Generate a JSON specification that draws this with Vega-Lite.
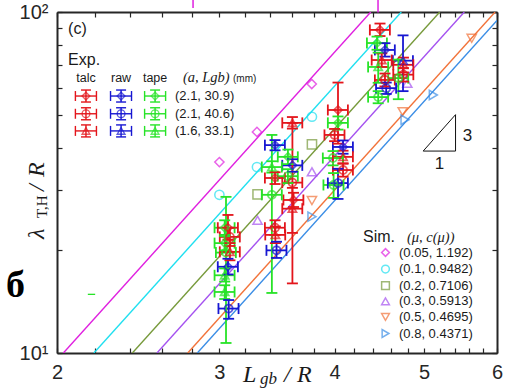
{
"$schema":"https://vega.github.io/schema/vega-lite/v6.json",
"width":440,"height":341,
"autosize":"none",
"padding":{"left":57,"top":12,"right":12,"bottom":35},
"config":{"view":{"stroke":null},"font":"Liberation Sans"},
"datasets":{
"lines":[
{"lab":"(0.05, 1.192)","x":2.032,"y":10},{"lab":"(0.05, 1.192)","x":4.378,"y":100},
{"lab":"(0.1, 0.9482)","x":2.193,"y":10},{"lab":"(0.1, 0.9482)","x":4.725,"y":100},
{"lab":"(0.2, 0.7106)","x":2.414,"y":10},{"lab":"(0.2, 0.7106)","x":5.201,"y":100},
{"lab":"(0.3, 0.5913)","x":2.567,"y":10},{"lab":"(0.3, 0.5913)","x":5.530,"y":100},
{"lab":"(0.5, 0.4695)","x":2.772,"y":10},{"lab":"(0.5, 0.4695)","x":5.972,"y":100},
{"lab":"(0.8, 0.4371)","x":2.839,"y":10},{"lab":"(0.8, 0.4371)","x":6.0,"y":94.4}],
"sim":[
{"lab":"(0.05, 1.192)","x":3.0,"y":36.3},{"lab":"(0.05, 1.192)","x":3.295,"y":44.5},{"lab":"(0.05, 1.192)","x":3.778,"y":61.5},
{"lab":"(0.1, 0.9482)","x":3.0,"y":29.1},{"lab":"(0.1, 0.9482)","x":3.295,"y":35.1},{"lab":"(0.1, 0.9482)","x":3.78,"y":49.3},
{"lab":"(0.2, 0.7106)","x":3.30,"y":29.2},{"lab":"(0.2, 0.7106)","x":3.78,"y":40.9},
{"lab":"(0.3, 0.5913)","x":3.30,"y":24.5},{"lab":"(0.3, 0.5913)","x":3.78,"y":34.0},{"lab":"(0.3, 0.5913)","x":4.796,"y":61.8},
{"lab":"(0.5, 0.4695)","x":3.78,"y":28.0},{"lab":"(0.5, 0.4695)","x":4.741,"y":51.0},{"lab":"(0.5, 0.4695)","x":5.633,"y":83.7},
{"lab":"(0.8, 0.4371)","x":3.78,"y":25.1},{"lab":"(0.8, 0.4371)","x":4.769,"y":48.3},{"lab":"(0.8, 0.4371)","x":5.118,"y":57.1}],
"exp":[
{"m":"tape","c":"d","x":3.04,"xl":2.964,"xh":3.116,"y":23.3,"yl":22.2,"yh":24.5},
{"m":"tape","c":"d","x":3.04,"xl":2.964,"xh":3.116,"y":21.0,"yl":20.0,"yh":22.0},
{"m":"tape","c":"c","x":3.05,"xl":2.974,"xh":3.126,"y":19.7,"yl":10.7,"yh":28.7},
{"m":"tape","c":"t","x":3.04,"xl":2.964,"xh":3.116,"y":16.9,"yl":16.2,"yh":17.7},
{"m":"tape","c":"t","x":3.04,"xl":2.964,"xh":3.116,"y":15.1,"yl":14.4,"yh":15.8},
{"m":"talc","c":"d","x":3.065,"xl":2.988,"xh":3.142,"y":23.3,"yl":21.5,"yh":25.4},
{"m":"talc","c":"c","x":3.08,"xl":3.003,"xh":3.157,"y":21.9,"yl":20.6,"yh":23.3},
{"m":"talc","c":"t","x":3.08,"xl":3.003,"xh":3.157,"y":19.8,"yl":18.7,"yh":21.0},
{"m":"raw","c":"d","x":3.065,"xl":2.988,"xh":3.142,"y":17.9,"yl":17.0,"yh":18.9},
{"m":"raw","c":"c","x":3.07,"xl":2.993,"xh":3.147,"y":13.5,"yl":12.6,"yh":14.3},
{"m":"raw","c":"d","x":3.447,"xl":3.361,"xh":3.533,"y":40.7,"yl":39.3,"yh":42.1},
{"m":"tape","c":"t","x":3.42,"xl":3.335,"xh":3.506,"y":35.1,"yl":33.8,"yh":36.5},
{"m":"talc","c":"d","x":3.447,"xl":3.361,"xh":3.533,"y":32.6,"yl":31.3,"yh":33.9},
{"m":"tape","c":"c","x":3.42,"xl":3.335,"xh":3.506,"y":29.1,"yl":15.0,"yh":43.6},
{"m":"talc","c":"c","x":3.447,"xl":3.361,"xh":3.533,"y":23.3,"yl":22.2,"yh":24.5},
{"m":"talc","c":"t","x":3.45,"xl":3.364,"xh":3.536,"y":22.2,"yl":21.0,"yh":23.5},
{"m":"raw","c":"c","x":3.46,"xl":3.374,"xh":3.547,"y":20.0,"yl":19.0,"yh":21.2},
{"m":"talc","c":"t","x":3.6,"xl":3.51,"xh":3.69,"y":47.3,"yl":45.5,"yh":49.2},
{"m":"tape","c":"d","x":3.56,"xl":3.471,"xh":3.649,"y":37.6,"yl":35.8,"yh":39.5},
{"m":"raw","c":"d","x":3.6,"xl":3.51,"xh":3.69,"y":35.5,"yl":34.0,"yh":37.0},
{"m":"tape","c":"c","x":3.56,"xl":3.471,"xh":3.649,"y":33.0,"yl":31.5,"yh":34.6},
{"m":"talc","c":"c","x":3.6,"xl":3.51,"xh":3.69,"y":31.6,"yl":16.0,"yh":47.3},
{"m":"talc","c":"d","x":3.61,"xl":3.52,"xh":3.70,"y":28.1,"yl":26.8,"yh":29.5},
{"m":"talc","c":"t","x":3.6,"xl":3.51,"xh":3.69,"y":26.5,"yl":22.5,"yh":30.5},
{"m":"talc","c":"d","x":4.034,"xl":3.933,"xh":4.135,"y":51.6,"yl":41.1,"yh":62.1},
{"m":"tape","c":"d","x":4.034,"xl":3.933,"xh":4.135,"y":47.3,"yl":45.2,"yh":49.4},
{"m":"talc","c":"c","x":4.0,"xl":3.90,"xh":4.10,"y":43.6,"yl":41.8,"yh":45.4},
{"m":"raw","c":"d","x":4.085,"xl":3.983,"xh":4.187,"y":40.2,"yl":38.4,"yh":42.0},
{"m":"talc","c":"t","x":4.085,"xl":3.983,"xh":4.187,"y":37.6,"yl":36.0,"yh":39.2},
{"m":"tape","c":"c","x":3.984,"xl":3.884,"xh":4.084,"y":37.3,"yl":35.5,"yh":39.1},
{"m":"talc","c":"c","x":4.085,"xl":3.983,"xh":4.187,"y":34.4,"yl":32.9,"yh":35.9},
{"m":"tape","c":"c","x":3.99,"xl":3.89,"xh":4.09,"y":31.1,"yl":28.5,"yh":33.7},
{"m":"raw","c":"c","x":4.034,"xl":3.933,"xh":4.135,"y":31.5,"yl":28.3,"yh":34.7},
{"m":"talc","c":"d","x":4.48,"xl":4.368,"xh":4.592,"y":88.6,"yl":85.0,"yh":92.5},
{"m":"tape","c":"d","x":4.447,"xl":4.336,"xh":4.558,"y":81.1,"yl":77.5,"yh":84.7},
{"m":"raw","c":"d","x":4.536,"xl":4.423,"xh":4.649,"y":77.4,"yl":74.0,"yh":81.0},
{"m":"talc","c":"t","x":4.5,"xl":4.388,"xh":4.613,"y":72.3,"yl":69.0,"yh":75.6},
{"m":"tape","c":"t","x":4.46,"xl":4.349,"xh":4.572,"y":69.0,"yl":62.0,"yh":76.0},
{"m":"talc","c":"c","x":4.536,"xl":4.423,"xh":4.649,"y":63.2,"yl":60.5,"yh":66.0},
{"m":"raw","c":"c","x":4.55,"xl":4.436,"xh":4.664,"y":59.8,"yl":57.5,"yh":62.1},
{"m":"tape","c":"c","x":4.46,"xl":4.349,"xh":4.572,"y":56.3,"yl":54.0,"yh":58.6},
{"m":"raw","c":"t","x":4.745,"xl":4.626,"xh":4.864,"y":72.0,"yl":58.6,"yh":85.4},
{"m":"talc","c":"t","x":4.75,"xl":4.631,"xh":4.869,"y":70.0,"yl":66.5,"yh":73.5},
{"m":"talc","c":"c","x":4.75,"xl":4.631,"xh":4.869,"y":65.5,"yl":62.5,"yh":68.5},
{"m":"tape","c":"c","x":4.69,"xl":4.573,"xh":4.807,"y":64.0,"yl":55.5,"yh":72.5}],
"expleg":[
{"m":"talc","c":"d","x":2.150,"xl":2.094,"xh":2.207,"y":56.7,"yl":54.45,"yh":59.04},
{"m":"raw","c":"d","x":2.347,"xl":2.286,"xh":2.409,"y":56.7,"yl":54.45,"yh":59.04},
{"m":"tape","c":"d","x":2.555,"xl":2.489,"xh":2.623,"y":56.7,"yl":54.45,"yh":59.04},
{"m":"talc","c":"c","x":2.150,"xl":2.094,"xh":2.207,"y":50.3,"yl":48.3,"yh":52.38},
{"m":"raw","c":"c","x":2.347,"xl":2.286,"xh":2.409,"y":50.3,"yl":48.3,"yh":52.38},
{"m":"tape","c":"c","x":2.555,"xl":2.489,"xh":2.623,"y":50.3,"yl":48.3,"yh":52.38},
{"m":"talc","c":"t","x":2.150,"xl":2.094,"xh":2.207,"y":44.8,"yl":43.02,"yh":46.65},
{"m":"raw","c":"t","x":2.347,"xl":2.286,"xh":2.409,"y":44.8,"yl":43.02,"yh":46.65},
{"m":"tape","c":"t","x":2.555,"xl":2.489,"xh":2.623,"y":44.8,"yl":43.02,"yh":46.65}],
"sans16":[{"t":"(c)","x":2.056,"y":86.2},{"t":"Exp.","x":2.056,"y":69.9},{"t":"Sim.","x":4.294,"y":21.16}],
"hdr":[{"t":"talc","x":2.150,"y":62.3},{"t":"raw","x":2.347,"y":62.3},{"t":"tape","x":2.555,"y":62.3}],
"leglab":[{"t":"(2.1, 30.9)","x":2.685,"y":56.7},{"t":"(2.1, 40.6)","x":2.685,"y":50.3},{"t":"(1.6, 33.1)","x":2.685,"y":44.8}],
"mm":[{"t":"(mm)","x":3.104,"y":62.3}],
"ital":[{"t":"(a, Lgb)","x":2.739,"y":62.3},{"t":"(μ, c(μ))","x":4.792,"y":21.16}],
"xtbig":[{"t":"L","x":3.182,"y":8.222},{"t":"/","x":3.525,"y":8.222},{"t":"R","x":3.642,"y":8.222}],
"xtsmall":[{"t":"gb","x":3.320,"y":8.111}],
"ytbig":[{"t":"λ","x":1.936,"y":21.60},{"t":"/","x":1.936,"y":29.86},{"t":"R","x":1.936,"y":32.82}],
"ytsmall":[{"t":"T,H","x":1.951,"y":24.89}],
"num":[{"t":"3","x":5.574,"y":43.3},{"t":"1","x":5.197,"y":35.83}],
"tri":[{"x":4.99,"y":39.1,"o":1},{"x":5.41,"y":39.1,"o":2},{"x":5.41,"y":50.0,"o":3},{"x":4.99,"y":39.1,"o":4}],
"glyph":[{"t":"б","x":1.803,"y":14.6}],
"stubs":[{"x":2.809,"y":102.7,"y2":108.4},{"x":4.458,"y":99.6,"y2":108.4}],
"dash":[{"x":2.16,"x2":2.20,"y":14.86}]
},
"resolve":{"scale":{"color":"independent","shape":"independent","stroke":"independent"},"axis":{"x":"independent","y":"independent"}},
"layer":[
{"data":{"values":[{"x":3,"y":20}]},"mark":{"type":"point","opacity":0},
 "encoding":{
  "x":{"field":"x","type":"quantitative","scale":{"type":"log","domain":[2,6],"nice":false},
   "axis":{"orient":"bottom","title":null,"values":[2,2.2,2.4,2.6,2.8,3,3.2,3.4,3.6,3.8,4,4.2,4.4,4.6,4.8,5,5.2,5.4,5.6,5.8,6],"labelExpr":"datum.value % 1 == 0 ? format(datum.value,'d') : ''","labelFontSize":20,"labelFont":"Liberation Sans","labelColor":"#262626","labelPadding":14,"tickSize":-5,"tickWidth":1.2,"tickColor":"#262626","domainColor":"#262626","domainWidth":2,"grid":false,"labelOverlap":false,"labelFlush":false,"labelBound":false}},
  "y":{"field":"y","type":"quantitative","scale":{"type":"log","domain":[10,100],"nice":false},
   "axis":{"orient":"left","title":null,"values":[10,20,30,40,50,60,70,80,90,100],"labelExpr":"datum.value == 10 ? '10¹' : (datum.value == 100 ? '10²' : '')","labelFontSize":20,"labelFont":"Liberation Sans","labelColor":"#262626","labelPadding":14,"tickSize":-5,"tickWidth":1.2,"tickColor":"#262626","domainColor":"#262626","domainWidth":2,"grid":false,"labelOverlap":false,"labelBound":false}}}},
{"data":{"values":[{"x":3,"y":20}]},"mark":{"type":"point","opacity":0},
 "encoding":{
  "x":{"field":"x","type":"quantitative","scale":{"type":"log","domain":[2,6],"nice":false},
   "axis":{"orient":"top","title":null,"labels":false,"values":[2,2.2,2.4,2.6,2.8,3,3.2,3.4,3.6,3.8,4,4.2,4.4,4.6,4.8,5,5.2,5.4,5.6,5.8,6],"tickSize":-5,"tickWidth":1.2,"tickColor":"#262626","domainColor":"#262626","domainWidth":2,"grid":false}},
  "y":{"field":"y","type":"quantitative","scale":{"type":"log","domain":[10,100],"nice":false},
   "axis":{"orient":"right","title":null,"labels":false,"values":[10,20,30,40,50,60,70,80,90,100],"tickSize":-5,"tickWidth":1.2,"tickColor":"#262626","domainColor":"#262626","domainWidth":2,"grid":false}}}},
{"data":{"name":"lines"},"mark":{"type":"line","strokeWidth":1.4,"clip":true},
  "encoding":{
   "x":{"field":"x","type":"quantitative","scale":{"type":"log","domain":[2,6],"nice":false},"axis":null},
   "y":{"field":"y","type":"quantitative","scale":{"type":"log","domain":[10,100],"nice":false},"axis":null},
   "stroke":{"field":"lab","type":"nominal","scale":{"domain":["(0.05, 1.192)","(0.1, 0.9482)","(0.2, 0.7106)","(0.3, 0.5913)","(0.5, 0.4695)","(0.8, 0.4371)"],"range":["#e020e0","#20e0f0","#779a3b","#a552f0","#f2733a","#3b8ee6"]},"legend":null}}},
{"data":{"name":"sim"},"mark":{"type":"point","filled":false,"size":85,"strokeWidth":1.5},
  "encoding":{
   "x":{"field":"x","type":"quantitative","scale":{"type":"log","domain":[2,6],"nice":false},"axis":null},
   "y":{"field":"y","type":"quantitative","scale":{"type":"log","domain":[10,100],"nice":false},"axis":null},
   "color":{"field":"lab","type":"nominal","scale":{"domain":["(0.05, 1.192)","(0.1, 0.9482)","(0.2, 0.7106)","(0.3, 0.5913)","(0.5, 0.4695)","(0.8, 0.4371)"],"range":["#e020e0","#20e0f0","#779a3b","#a552f0","#f2733a","#3b8ee6"]},
    "legend":{"orient":"none","legendX":322,"legendY":234,"title":null,"padding":0,"labelFont":"Liberation Sans","labelFontSize":13,"labelColor":"#1a1a1a","labelOffset":7,"rowPadding":1.6,"symbolSize":60,"symbolStrokeWidth":1.5}},
   "shape":{"field":"lab","type":"nominal","scale":{"domain":["(0.05, 1.192)","(0.1, 0.9482)","(0.2, 0.7106)","(0.3, 0.5913)","(0.5, 0.4695)","(0.8, 0.4371)"],"range":["diamond","circle","square","triangle-up","triangle-down","triangle-right"]},
    "legend":{"orient":"none","legendX":322,"legendY":234,"title":null,"padding":0,"labelFont":"Liberation Sans","labelFontSize":13,"labelColor":"#1a1a1a","labelOffset":7,"rowPadding":1.6,"symbolSize":60,"symbolStrokeWidth":1.5}}}},
{"data":{"name":"exp"},"layer":[
 {"mark":{"type":"rule","strokeWidth":1.8},"encoding":{"x":{"field":"xl","type":"quantitative","scale":{"type":"log","domain":[2,6],"nice":false},"axis":null},"x2":{"field":"xh"},"y":{"field":"y","type":"quantitative","scale":{"type":"log","domain":[10,100],"nice":false},"axis":null},"color":{"field":"m","type":"nominal","scale":{"domain":["talc","raw","tape"],"range":["#e3151b","#1717d2","#27e327"]},"legend":null}}},
 {"mark":{"type":"rule","strokeWidth":1.8},"encoding":{"x":{"field":"x","type":"quantitative","scale":{"type":"log","domain":[2,6],"nice":false},"axis":null},"y":{"field":"yl","type":"quantitative","scale":{"type":"log","domain":[10,100],"nice":false},"axis":null},"y2":{"field":"yh"},"color":{"field":"m","type":"nominal","scale":{"domain":["talc","raw","tape"],"range":["#e3151b","#1717d2","#27e327"]},"legend":null}}},
 {"mark":{"type":"rule","strokeWidth":1.8,"yOffset":-5.5,"y2Offset":5.5},"encoding":{"x":{"field":"xl","type":"quantitative","scale":{"type":"log","domain":[2,6],"nice":false},"axis":null},"y":{"field":"y","type":"quantitative","scale":{"type":"log","domain":[10,100],"nice":false},"axis":null},"y2":{"field":"y"},"color":{"field":"m","type":"nominal","scale":{"domain":["talc","raw","tape"],"range":["#e3151b","#1717d2","#27e327"]},"legend":null}}},
 {"mark":{"type":"rule","strokeWidth":1.8,"yOffset":-5.5,"y2Offset":5.5},"encoding":{"x":{"field":"xh","type":"quantitative","scale":{"type":"log","domain":[2,6],"nice":false},"axis":null},"y":{"field":"y","type":"quantitative","scale":{"type":"log","domain":[10,100],"nice":false},"axis":null},"y2":{"field":"y"},"color":{"field":"m","type":"nominal","scale":{"domain":["talc","raw","tape"],"range":["#e3151b","#1717d2","#27e327"]},"legend":null}}},
 {"mark":{"type":"rule","strokeWidth":1.8,"xOffset":-5.5,"x2Offset":5.5},"encoding":{"x":{"field":"x","type":"quantitative","scale":{"type":"log","domain":[2,6],"nice":false},"axis":null},"x2":{"field":"x"},"y":{"field":"yl","type":"quantitative","scale":{"type":"log","domain":[10,100],"nice":false},"axis":null},"color":{"field":"m","type":"nominal","scale":{"domain":["talc","raw","tape"],"range":["#e3151b","#1717d2","#27e327"]},"legend":null}}},
 {"mark":{"type":"rule","strokeWidth":1.8,"xOffset":-5.5,"x2Offset":5.5},"encoding":{"x":{"field":"x","type":"quantitative","scale":{"type":"log","domain":[2,6],"nice":false},"axis":null},"x2":{"field":"x"},"y":{"field":"yh","type":"quantitative","scale":{"type":"log","domain":[10,100],"nice":false},"axis":null},"color":{"field":"m","type":"nominal","scale":{"domain":["talc","raw","tape"],"range":["#e3151b","#1717d2","#27e327"]},"legend":null}}},
 {"transform":[{"filter":"datum.c == 'd'"}],"mark":{"type":"point","shape":"diamond","filled":false,"size":65,"strokeWidth":1.8},"encoding":{"x":{"field":"x","type":"quantitative","scale":{"type":"log","domain":[2,6],"nice":false},"axis":null},"y":{"field":"y","type":"quantitative","scale":{"type":"log","domain":[10,100],"nice":false},"axis":null},"color":{"field":"m","type":"nominal","scale":{"domain":["talc","raw","tape"],"range":["#e3151b","#1717d2","#27e327"]},"legend":null}}},
 {"transform":[{"filter":"datum.c == 'c'"}],"mark":{"type":"point","shape":"circle","filled":false,"size":65,"strokeWidth":1.8},"encoding":{"x":{"field":"x","type":"quantitative","scale":{"type":"log","domain":[2,6],"nice":false},"axis":null},"y":{"field":"y","type":"quantitative","scale":{"type":"log","domain":[10,100],"nice":false},"axis":null},"color":{"field":"m","type":"nominal","scale":{"domain":["talc","raw","tape"],"range":["#e3151b","#1717d2","#27e327"]},"legend":null}}},
 {"transform":[{"filter":"datum.c == 't'"}],"mark":{"type":"point","shape":"triangle-up","filled":false,"size":65,"strokeWidth":1.8},"encoding":{"x":{"field":"x","type":"quantitative","scale":{"type":"log","domain":[2,6],"nice":false},"axis":null},"y":{"field":"y","type":"quantitative","scale":{"type":"log","domain":[10,100],"nice":false},"axis":null},"color":{"field":"m","type":"nominal","scale":{"domain":["talc","raw","tape"],"range":["#e3151b","#1717d2","#27e327"]},"legend":null}}}
]},
{"data":{"name":"expleg"},"layer":[
 {"mark":{"type":"rule","strokeWidth":1.4},"encoding":{"x":{"field":"xl","type":"quantitative","scale":{"type":"log","domain":[2,6],"nice":false},"axis":null},"x2":{"field":"xh"},"y":{"field":"y","type":"quantitative","scale":{"type":"log","domain":[10,100],"nice":false},"axis":null},"color":{"field":"m","type":"nominal","scale":{"domain":["talc","raw","tape"],"range":["#e3151b","#1717d2","#27e327"]},"legend":null}}},
 {"mark":{"type":"rule","strokeWidth":1.4},"encoding":{"x":{"field":"x","type":"quantitative","scale":{"type":"log","domain":[2,6],"nice":false},"axis":null},"y":{"field":"yl","type":"quantitative","scale":{"type":"log","domain":[10,100],"nice":false},"axis":null},"y2":{"field":"yh"},"color":{"field":"m","type":"nominal","scale":{"domain":["talc","raw","tape"],"range":["#e3151b","#1717d2","#27e327"]},"legend":null}}},
 {"mark":{"type":"rule","strokeWidth":1.4,"yOffset":-5,"y2Offset":5},"encoding":{"x":{"field":"xl","type":"quantitative","scale":{"type":"log","domain":[2,6],"nice":false},"axis":null},"y":{"field":"y","type":"quantitative","scale":{"type":"log","domain":[10,100],"nice":false},"axis":null},"y2":{"field":"y"},"color":{"field":"m","type":"nominal","scale":{"domain":["talc","raw","tape"],"range":["#e3151b","#1717d2","#27e327"]},"legend":null}}},
 {"mark":{"type":"rule","strokeWidth":1.4,"yOffset":-5,"y2Offset":5},"encoding":{"x":{"field":"xh","type":"quantitative","scale":{"type":"log","domain":[2,6],"nice":false},"axis":null},"y":{"field":"y","type":"quantitative","scale":{"type":"log","domain":[10,100],"nice":false},"axis":null},"y2":{"field":"y"},"color":{"field":"m","type":"nominal","scale":{"domain":["talc","raw","tape"],"range":["#e3151b","#1717d2","#27e327"]},"legend":null}}},
 {"mark":{"type":"rule","strokeWidth":1.4,"xOffset":-5,"x2Offset":5},"encoding":{"x":{"field":"x","type":"quantitative","scale":{"type":"log","domain":[2,6],"nice":false},"axis":null},"x2":{"field":"x"},"y":{"field":"yl","type":"quantitative","scale":{"type":"log","domain":[10,100],"nice":false},"axis":null},"color":{"field":"m","type":"nominal","scale":{"domain":["talc","raw","tape"],"range":["#e3151b","#1717d2","#27e327"]},"legend":null}}},
 {"mark":{"type":"rule","strokeWidth":1.4,"xOffset":-5,"x2Offset":5},"encoding":{"x":{"field":"x","type":"quantitative","scale":{"type":"log","domain":[2,6],"nice":false},"axis":null},"x2":{"field":"x"},"y":{"field":"yh","type":"quantitative","scale":{"type":"log","domain":[10,100],"nice":false},"axis":null},"color":{"field":"m","type":"nominal","scale":{"domain":["talc","raw","tape"],"range":["#e3151b","#1717d2","#27e327"]},"legend":null}}},
 {"transform":[{"filter":"datum.c == 'd'"}],"mark":{"type":"point","shape":"diamond","filled":false,"size":60,"strokeWidth":1.4},"encoding":{"x":{"field":"x","type":"quantitative","scale":{"type":"log","domain":[2,6],"nice":false},"axis":null},"y":{"field":"y","type":"quantitative","scale":{"type":"log","domain":[10,100],"nice":false},"axis":null},"color":{"field":"m","type":"nominal","scale":{"domain":["talc","raw","tape"],"range":["#e3151b","#1717d2","#27e327"]},"legend":null}}},
 {"transform":[{"filter":"datum.c == 'c'"}],"mark":{"type":"point","shape":"circle","filled":false,"size":60,"strokeWidth":1.4},"encoding":{"x":{"field":"x","type":"quantitative","scale":{"type":"log","domain":[2,6],"nice":false},"axis":null},"y":{"field":"y","type":"quantitative","scale":{"type":"log","domain":[10,100],"nice":false},"axis":null},"color":{"field":"m","type":"nominal","scale":{"domain":["talc","raw","tape"],"range":["#e3151b","#1717d2","#27e327"]},"legend":null}}},
 {"transform":[{"filter":"datum.c == 't'"}],"mark":{"type":"point","shape":"triangle-up","filled":false,"size":60,"strokeWidth":1.4},"encoding":{"x":{"field":"x","type":"quantitative","scale":{"type":"log","domain":[2,6],"nice":false},"axis":null},"y":{"field":"y","type":"quantitative","scale":{"type":"log","domain":[10,100],"nice":false},"axis":null},"color":{"field":"m","type":"nominal","scale":{"domain":["talc","raw","tape"],"range":["#e3151b","#1717d2","#27e327"]},"legend":null}}}
]},
{"data":{"name":"tri"},"mark":{"type":"line","color":"#111111","strokeWidth":1},
 "encoding":{"x":{"field":"x","type":"quantitative","scale":{"type":"log","domain":[2,6],"nice":false},"axis":null},"y":{"field":"y","type":"quantitative","scale":{"type":"log","domain":[10,100],"nice":false},"axis":null},"order":{"field":"o"}}},
{"data":{"name":"stubs"},"mark":{"type":"rule","color":"#e020e0","strokeWidth":1.5},
 "encoding":{"x":{"field":"x","type":"quantitative","scale":{"type":"log","domain":[2,6],"nice":false},"axis":null},"y":{"field":"y","type":"quantitative","scale":{"type":"log","domain":[10,100],"nice":false},"axis":null},"y2":{"field":"y2"}}},
{"data":{"name":"dash"},"mark":{"type":"rule","color":"#27e327","strokeWidth":1.3},
 "encoding":{"x":{"field":"x","type":"quantitative","scale":{"type":"log","domain":[2,6],"nice":false},"axis":null},"x2":{"field":"x2"},"y":{"field":"y","type":"quantitative","scale":{"type":"log","domain":[10,100],"nice":false},"axis":null}}},
{"data":{"name":"sans16"},"mark":{"type":"text","font":"Liberation Sans","fontSize":16,"align":"left","baseline":"alphabetic","color":"#1a1a1a"},
 "encoding":{"x":{"field":"x","type":"quantitative","scale":{"type":"log","domain":[2,6],"nice":false},"axis":null},"y":{"field":"y","type":"quantitative","scale":{"type":"log","domain":[10,100],"nice":false},"axis":null},"text":{"field":"t"}}},
{"data":{"name":"hdr"},"mark":{"type":"text","font":"Liberation Sans","fontSize":12.5,"align":"center","baseline":"alphabetic","color":"#1a1a1a"},
 "encoding":{"x":{"field":"x","type":"quantitative","scale":{"type":"log","domain":[2,6],"nice":false},"axis":null},"y":{"field":"y","type":"quantitative","scale":{"type":"log","domain":[10,100],"nice":false},"axis":null},"text":{"field":"t"}}},
{"data":{"name":"leglab"},"mark":{"type":"text","font":"Liberation Sans","fontSize":13,"align":"left","baseline":"middle","color":"#1a1a1a"},
 "encoding":{"x":{"field":"x","type":"quantitative","scale":{"type":"log","domain":[2,6],"nice":false},"axis":null},"y":{"field":"y","type":"quantitative","scale":{"type":"log","domain":[10,100],"nice":false},"axis":null},"text":{"field":"t"}}},
{"data":{"name":"mm"},"mark":{"type":"text","font":"Liberation Sans","fontSize":10,"align":"left","baseline":"alphabetic","color":"#1a1a1a"},
 "encoding":{"x":{"field":"x","type":"quantitative","scale":{"type":"log","domain":[2,6],"nice":false},"axis":null},"y":{"field":"y","type":"quantitative","scale":{"type":"log","domain":[10,100],"nice":false},"axis":null},"text":{"field":"t"}}},
{"data":{"name":"ital"},"mark":{"type":"text","font":"Liberation Serif","fontStyle":"italic","fontSize":14.5,"align":"left","baseline":"alphabetic","color":"#1a1a1a"},
 "encoding":{"x":{"field":"x","type":"quantitative","scale":{"type":"log","domain":[2,6],"nice":false},"axis":null},"y":{"field":"y","type":"quantitative","scale":{"type":"log","domain":[10,100],"nice":false},"axis":null},"text":{"field":"t"}}},
{"data":{"name":"xtbig"},"mark":{"type":"text","font":"Liberation Serif","fontStyle":"italic","fontSize":24,"align":"left","baseline":"alphabetic","color":"#1a1a1a"},
 "encoding":{"x":{"field":"x","type":"quantitative","scale":{"type":"log","domain":[2,6],"nice":false},"axis":null},"y":{"field":"y","type":"quantitative","scale":{"type":"log","domain":[10,100],"nice":false},"axis":null},"text":{"field":"t"}}},
{"data":{"name":"xtsmall"},"mark":{"type":"text","font":"Liberation Serif","fontStyle":"italic","fontSize":17,"align":"left","baseline":"alphabetic","color":"#1a1a1a"},
 "encoding":{"x":{"field":"x","type":"quantitative","scale":{"type":"log","domain":[2,6],"nice":false},"axis":null},"y":{"field":"y","type":"quantitative","scale":{"type":"log","domain":[10,100],"nice":false},"axis":null},"text":{"field":"t"}}},
{"data":{"name":"ytbig"},"mark":{"type":"text","font":"Liberation Serif","fontStyle":"italic","fontSize":24,"align":"left","baseline":"alphabetic","angle":270,"color":"#1a1a1a"},
 "encoding":{"x":{"field":"x","type":"quantitative","scale":{"type":"log","domain":[2,6],"nice":false},"axis":null},"y":{"field":"y","type":"quantitative","scale":{"type":"log","domain":[10,100],"nice":false},"axis":null},"text":{"field":"t"}}},
{"data":{"name":"ytsmall"},"mark":{"type":"text","font":"Liberation Serif","fontSize":15,"align":"left","baseline":"alphabetic","angle":270,"color":"#1a1a1a"},
 "encoding":{"x":{"field":"x","type":"quantitative","scale":{"type":"log","domain":[2,6],"nice":false},"axis":null},"y":{"field":"y","type":"quantitative","scale":{"type":"log","domain":[10,100],"nice":false},"axis":null},"text":{"field":"t"}}},
{"data":{"name":"num"},"mark":{"type":"text","font":"Liberation Sans","fontSize":17,"align":"center","baseline":"middle","color":"#1a1a1a"},
 "encoding":{"x":{"field":"x","type":"quantitative","scale":{"type":"log","domain":[2,6],"nice":false},"axis":null},"y":{"field":"y","type":"quantitative","scale":{"type":"log","domain":[10,100],"nice":false},"axis":null},"text":{"field":"t"}}},
{"data":{"name":"glyph"},"mark":{"type":"text","font":"Liberation Serif","fontWeight":"bold","fontSize":38,"align":"center","baseline":"alphabetic","color":"#000000"},
 "encoding":{"x":{"field":"x","type":"quantitative","scale":{"type":"log","domain":[2,6],"nice":false},"axis":null},"y":{"field":"y","type":"quantitative","scale":{"type":"log","domain":[10,100],"nice":false},"axis":null},"text":{"field":"t"}}}
]
}
